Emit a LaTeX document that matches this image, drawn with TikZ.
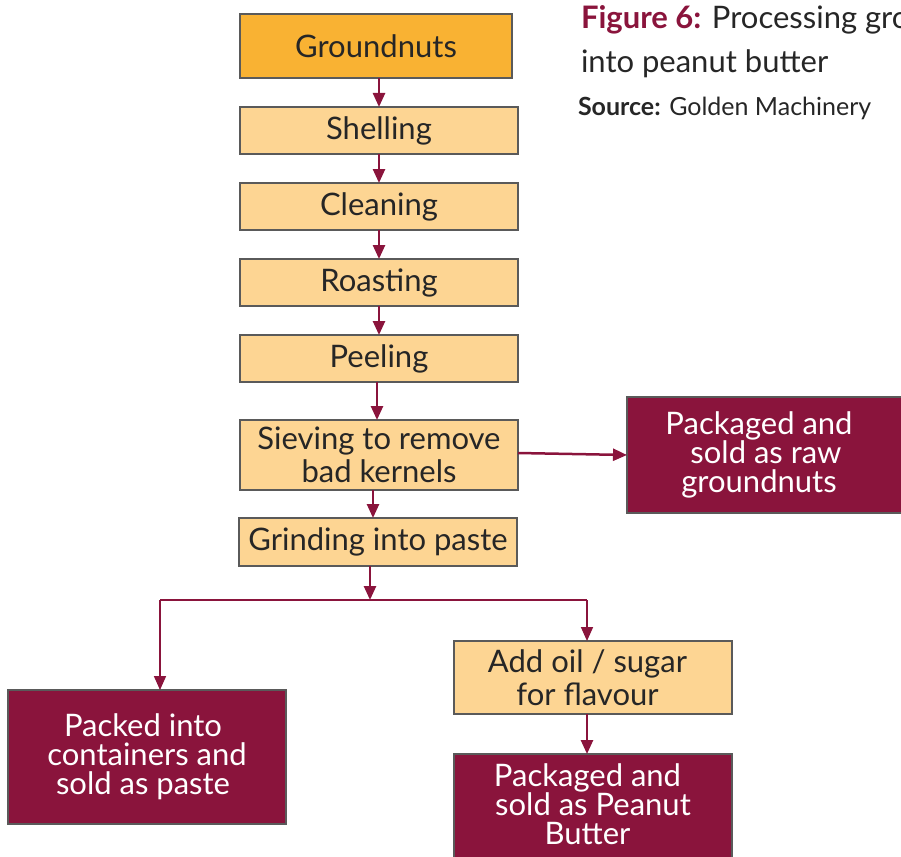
\documentclass[tikz,border=0pt]{standalone}
\usepackage{fontspec}
\setmainfont{Lato}
\usetikzlibrary{arrows.meta,calc}
\definecolor{maroon}{HTML}{8A143C}
\definecolor{nutorange}{HTML}{F9B233}
\definecolor{nutlight}{HTML}{FDD593}
\definecolor{edgegrey}{HTML}{5A5A5A}
\definecolor{inkdark}{HTML}{262626}
\newcommand{\padR}{\hspace*{14pt}}
\newcommand{\padS}{\hspace*{11pt}}
\begin{document}
\begin{tikzpicture}[x=1pt,y=-1pt,
  every node/.style={inner sep=0pt, outer sep=0pt, align=center},
  stepbox/.style={draw=edgegrey, line width=1.2pt, fill=nutlight, text=inkdark,
    font=\fontsize{31}{33}\selectfont},
  endbox/.style={draw=edgegrey, line width=1.2pt, fill=maroon, text=white,
    font=\fontsize{31}{29}\selectfont},
  flow/.style={draw=maroon, line width=2.5pt, -{Triangle[length=14pt,width=12pt]}},
  thinflow/.style={draw=maroon, line width=1.7pt, -{Triangle[length=14pt,width=12pt]}},
  branch/.style={draw=maroon, line width=1.4pt}]
\clip (0,0) rectangle (901,856);
\useasboundingbox (0,0) rectangle (901,856);

% process chain
\node[stepbox, fill=nutorange, minimum width=272pt, minimum height=64pt] (gn) at (376,46) {Groundnuts};
\node[stepbox, minimum width=278pt, minimum height=47pt] (sh) at (379,130.5) {Shelling};
\node[stepbox, minimum width=278pt, minimum height=47pt] (cl) at (379,206.5) {Cleaning};
\node[stepbox, minimum width=278pt, minimum height=47pt] (ro) at (379,282.5) {Roasting};
\node[stepbox, minimum width=278pt, minimum height=47pt] (pe) at (379,358.5) {Peeling};
\node[stepbox, minimum width=278pt, minimum height=70pt] (si) at (379,455) {Sieving to remove\\bad kernels};
\node[stepbox, minimum width=278pt, minimum height=48pt] (gr) at (378,542) {Grinding into paste};
\node[stepbox, minimum width=278pt, minimum height=73pt] (ao) at (593,677.5)
  {Add oil / sugar\padS\\for flavour\padS};

% outputs (trailing pads keep the text a little left of the box centre)
\node[endbox, minimum width=278pt, minimum height=116pt] (raw) at (766,455)
  {Packaged and\padR\\sold as raw\padR\\groundnuts\padR};
\node[endbox, minimum width=278pt, minimum height=134pt] (pp) at (147,757)
  {Packed into\hspace*{8pt}\\containers and\hspace*{8pt}\\sold as paste\hspace*{8pt}};
\node[endbox, minimum width=278pt, minimum height=118pt] (pb) at (593,813)
  {Packaged and\padS\\sold as Peanut\padS\\Butter\padS\rule[-18pt]{0pt}{0pt}};

% connectors
\coordinate (split) at (370,600);
\coordinate (lft) at (160,600);
\coordinate (rgt) at (587,600);

\draw[flow] (sh.north |- gn.south) -- (sh.north);
\draw[flow] (sh) -- (cl);
\draw[flow] (cl) -- (ro);
\draw[flow] (ro) -- (pe);
\draw[flow] ([xshift=-2pt]pe.south) -- ([xshift=-2pt]pe.south |- si.north);
\draw[flow] ([xshift=-6pt]si.south) -- ([xshift=-6pt]si.south |- gr.north);
\draw[flow] (split |- gr.south) -- (split);
\draw[branch] (lft) -- (rgt);
\draw[thinflow] (lft) -- (lft |- pp.north);
\draw[thinflow] (rgt) -- (rgt |- ao.north);
\draw[flow] (rgt |- ao.south) -- (rgt |- pb.north);
\draw[flow] ([yshift=2pt]si.east) -- (raw.west);

% caption
\node[anchor=base west, text=inkdark, font=\fontsize{31}{33}\selectfont] (cap1) at (581,29)
  {\textcolor{maroon}{\textbf{Figure 6:}} Processing groundnuts};
\node[anchor=base west, text=inkdark, font=\fontsize{31}{33}\selectfont] (cap2) at (581,73) {into peanut butter};
\node[anchor=base west, text=inkdark, font=\fontsize{25}{28}\selectfont] (src) at (578,116) {\textbf{Source:} Golden Machinery};
\end{tikzpicture}
\end{document}
